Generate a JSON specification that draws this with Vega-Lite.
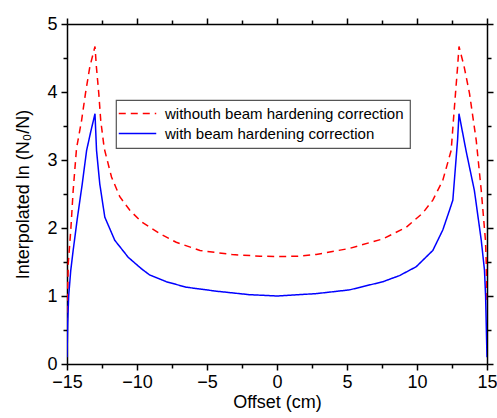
{
  "$schema": "https://vega.github.io/schema/vega-lite/v6.json",
  "width": 420,
  "height": 340,
  "autosize": "none",
  "padding": {"left": 67, "top": 24, "right": 10, "bottom": 54},
  "background": "white",
  "config": {
    "font": "Liberation Sans",
    "view": {"stroke": null},
    "axis": {
      "domainColor": "black", "domainWidth": 1.5, "tickColor": "black", "tickWidth": 1.5,
      "labelColor": "black", "titleColor": "black", "labelFontSize": 18, "titleFontSize": 18,
      "titleFontWeight": "normal", "grid": false
    },
    "legend": {"strokeWidth": 1.2}
  },
  "data": {"values": [
    {"x": -15.0, "y": 0.4, "s": "withouth beam hardening correction"},
    {"x": -14.97, "y": 0.9, "s": "withouth beam hardening correction"},
    {"x": -14.91, "y": 1.48, "s": "withouth beam hardening correction"},
    {"x": -14.73, "y": 1.97, "s": "withouth beam hardening correction"},
    {"x": -14.56, "y": 2.55, "s": "withouth beam hardening correction"},
    {"x": -14.32, "y": 3.17, "s": "withouth beam hardening correction"},
    {"x": -13.96, "y": 3.58, "s": "withouth beam hardening correction"},
    {"x": -13.68, "y": 3.98, "s": "withouth beam hardening correction"},
    {"x": -13.37, "y": 4.37, "s": "withouth beam hardening correction"},
    {"x": -13.0, "y": 4.67, "s": "withouth beam hardening correction"},
    {"x": -12.9, "y": 4.37, "s": "withouth beam hardening correction"},
    {"x": -12.73, "y": 3.98, "s": "withouth beam hardening correction"},
    {"x": -12.59, "y": 3.58, "s": "withouth beam hardening correction"},
    {"x": -12.34, "y": 3.17, "s": "withouth beam hardening correction"},
    {"x": -11.82, "y": 2.75, "s": "withouth beam hardening correction"},
    {"x": -11.23, "y": 2.46, "s": "withouth beam hardening correction"},
    {"x": -10.51, "y": 2.26, "s": "withouth beam hardening correction"},
    {"x": -9.68, "y": 2.09, "s": "withouth beam hardening correction"},
    {"x": -8.4, "y": 1.92, "s": "withouth beam hardening correction"},
    {"x": -7.2, "y": 1.79, "s": "withouth beam hardening correction"},
    {"x": -5.5, "y": 1.67, "s": "withouth beam hardening correction"},
    {"x": -3.2, "y": 1.61, "s": "withouth beam hardening correction"},
    {"x": -1.2, "y": 1.585, "s": "withouth beam hardening correction"},
    {"x": 0, "y": 1.58, "s": "withouth beam hardening correction"},
    {"x": 1.5, "y": 1.585, "s": "withouth beam hardening correction"},
    {"x": 2.8, "y": 1.61, "s": "withouth beam hardening correction"},
    {"x": 5.18, "y": 1.7, "s": "withouth beam hardening correction"},
    {"x": 7.56, "y": 1.84, "s": "withouth beam hardening correction"},
    {"x": 9.23, "y": 2.01, "s": "withouth beam hardening correction"},
    {"x": 10.41, "y": 2.22, "s": "withouth beam hardening correction"},
    {"x": 11.13, "y": 2.41, "s": "withouth beam hardening correction"},
    {"x": 11.84, "y": 2.7, "s": "withouth beam hardening correction"},
    {"x": 12.44, "y": 3.14, "s": "withouth beam hardening correction"},
    {"x": 12.6, "y": 3.58, "s": "withouth beam hardening correction"},
    {"x": 12.75, "y": 3.98, "s": "withouth beam hardening correction"},
    {"x": 12.9, "y": 4.37, "s": "withouth beam hardening correction"},
    {"x": 13.0, "y": 4.67, "s": "withouth beam hardening correction"},
    {"x": 13.37, "y": 4.37, "s": "withouth beam hardening correction"},
    {"x": 13.75, "y": 3.98, "s": "withouth beam hardening correction"},
    {"x": 14.23, "y": 3.29, "s": "withouth beam hardening correction"},
    {"x": 14.59, "y": 2.55, "s": "withouth beam hardening correction"},
    {"x": 14.89, "y": 1.82, "s": "withouth beam hardening correction"},
    {"x": 14.95, "y": 1.48, "s": "withouth beam hardening correction"},
    {"x": 15.0, "y": 0.9, "s": "withouth beam hardening correction"},
    {"x": -15.0, "y": 0.1, "s": "with beam hardening correction"},
    {"x": -14.95, "y": 0.6, "s": "with beam hardening correction"},
    {"x": -14.88, "y": 1.0, "s": "with beam hardening correction"},
    {"x": -14.73, "y": 1.38, "s": "with beam hardening correction"},
    {"x": -14.56, "y": 1.67, "s": "with beam hardening correction"},
    {"x": -14.25, "y": 2.16, "s": "with beam hardening correction"},
    {"x": -13.91, "y": 2.65, "s": "with beam hardening correction"},
    {"x": -13.6, "y": 3.14, "s": "with beam hardening correction"},
    {"x": -13.3, "y": 3.42, "s": "with beam hardening correction"},
    {"x": -13.0, "y": 3.68, "s": "with beam hardening correction"},
    {"x": -12.89, "y": 3.14, "s": "with beam hardening correction"},
    {"x": -12.66, "y": 2.65, "s": "with beam hardening correction"},
    {"x": -12.3, "y": 2.16, "s": "with beam hardening correction"},
    {"x": -11.59, "y": 1.82, "s": "with beam hardening correction"},
    {"x": -10.63, "y": 1.57, "s": "with beam hardening correction"},
    {"x": -9.68, "y": 1.4, "s": "with beam hardening correction"},
    {"x": -9.1, "y": 1.31, "s": "with beam hardening correction"},
    {"x": -7.9, "y": 1.21, "s": "with beam hardening correction"},
    {"x": -6.5, "y": 1.13, "s": "with beam hardening correction"},
    {"x": -4.3, "y": 1.07, "s": "with beam hardening correction"},
    {"x": -2.0, "y": 1.02, "s": "with beam hardening correction"},
    {"x": 0, "y": 1.0, "s": "with beam hardening correction"},
    {"x": 2.8, "y": 1.035, "s": "with beam hardening correction"},
    {"x": 5.18, "y": 1.09, "s": "with beam hardening correction"},
    {"x": 7.56, "y": 1.21, "s": "with beam hardening correction"},
    {"x": 8.75, "y": 1.3, "s": "with beam hardening correction"},
    {"x": 9.94, "y": 1.43, "s": "with beam hardening correction"},
    {"x": 11.13, "y": 1.67, "s": "with beam hardening correction"},
    {"x": 11.84, "y": 1.97, "s": "with beam hardening correction"},
    {"x": 12.32, "y": 2.26, "s": "with beam hardening correction"},
    {"x": 12.56, "y": 2.41, "s": "with beam hardening correction"},
    {"x": 12.8, "y": 3.04, "s": "with beam hardening correction"},
    {"x": 12.9, "y": 3.3, "s": "with beam hardening correction"},
    {"x": 13.0, "y": 3.68, "s": "with beam hardening correction"},
    {"x": 13.5, "y": 3.14, "s": "with beam hardening correction"},
    {"x": 14.1, "y": 2.55, "s": "with beam hardening correction"},
    {"x": 14.59, "y": 1.82, "s": "with beam hardening correction"},
    {"x": 14.82, "y": 1.38, "s": "with beam hardening correction"},
    {"x": 14.9, "y": 1.0, "s": "with beam hardening correction"},
    {"x": 15.0, "y": 0.1, "s": "with beam hardening correction"}
  ]},
  "resolve": {"axis": {"x": "independent", "y": "independent"}},
  "layer": [
    {
      "mark": {"type": "line", "strokeWidth": 1.5, "clip": true},
      "encoding": {
        "x": {"field": "x", "type": "quantitative", "scale": {"domain": [-15, 15], "nice": false, "zero": false},
          "axis": {"title": "Offset (cm)", "values": [-15, -12.5, -10, -7.5, -5, -2.5, 0, 2.5, 5, 7.5, 10, 12.5, 15],
            "format": "~g",
            "labelExpr": "datum.value % 5 === 0 ? datum.label : ''", "labelFlush": false, "labelPadding": 3,
            "tickSize": {"condition": {"test": "datum.value % 5 === 0", "value": 6}, "value": 4}, "titlePadding": 2}},
        "y": {"field": "y", "type": "quantitative", "scale": {"domain": [0, 5], "nice": false},
          "axis": {"title": "Interpolated ln  (N₀/N)", "values": [0, 0.5, 1, 1.5, 2, 2.5, 3, 3.5, 4, 4.5, 5],
            "format": "~g",
            "labelExpr": "datum.value % 1 === 0 ? datum.label : ''", "labelFlush": false, "labelPadding": 4,
            "tickSize": {"condition": {"test": "datum.value % 1 === 0", "value": 6}, "value": 4}, "titlePadding": 14}},
        "color": {"field": "s", "type": "nominal",
          "scale": {"domain": ["withouth beam hardening correction", "with beam hardening correction"], "range": ["#ff0000", "#0000ff"]},
          "legend": {"title": null, "orient": "none", "legendX": 49, "legendY": 76, "strokeColor": "#555555",
            "symbolType": "M-3,0H3", "symbolSize": 156, "symbolStrokeWidth": 1.5, "labelFontSize": 15, "labelColor": "black",
            "labelLimit": 0, "rowPadding": 4, "padding": 6, "symbolOffset": 8, "labelOffset": 20,
            "encode": {"legend": {"update": {"width": {"value": 318}}}}}},
        "strokeDash": {"field": "s", "type": "nominal",
          "scale": {"domain": ["withouth beam hardening correction", "with beam hardening correction"], "range": [[7, 5], [1, 0]]},
          "legend": {"title": null, "orient": "none", "legendX": 49, "legendY": 76}}
      }
    },
    {
      "mark": {"type": "line", "strokeOpacity": 0},
      "encoding": {
        "x": {"field": "x", "type": "quantitative",
          "axis": {"orient": "top", "title": null, "values": [-15, -12.5, -10, -7.5, -5, -2.5, 0, 2.5, 5, 7.5, 10, 12.5, 15], "labels": false,
            "tickSize": {"condition": {"test": "datum.value % 5 === 0", "value": 6}, "value": 4}}},
        "y": {"field": "y", "type": "quantitative",
          "axis": {"orient": "right", "title": null, "values": [0, 0.5, 1, 1.5, 2, 2.5, 3, 3.5, 4, 4.5, 5], "labels": false,
            "tickSize": {"condition": {"test": "datum.value % 1 === 0", "value": 6}, "value": 4}}},
        "detail": {"field": "s", "type": "nominal"}
      }
    }
  ]
}
